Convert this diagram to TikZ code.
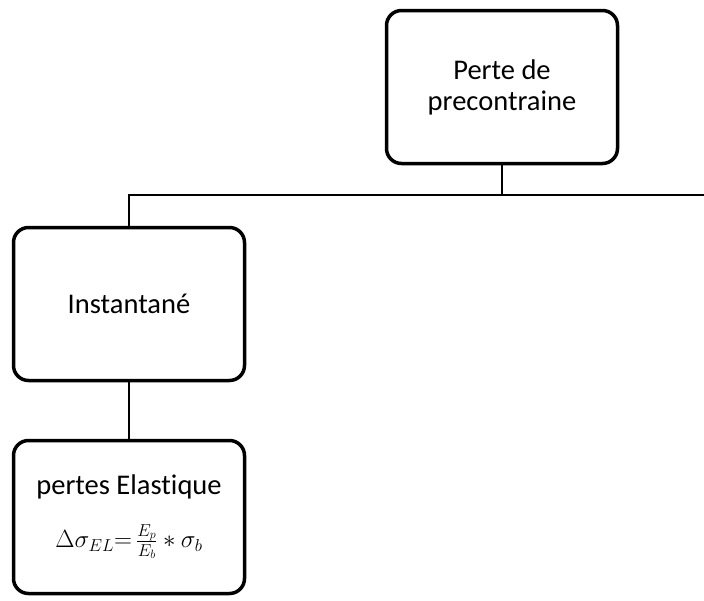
\documentclass[tikz,border=0pt]{standalone}
\usepackage{fontspec}
\setmainfont[Ligatures=NoCommon]{Carlito}
\begin{document}
\begin{tikzpicture}[x=1pt,y=-1pt,
  box/.style={draw, line width=3.5pt, rounded corners=15pt, minimum width=231pt,
    minimum height=153pt, align=center, inner sep=0pt,
    font=\fontsize{28.5}{31}\selectfont},
  link/.style={line width=2pt}]
\useasboundingbox (0,0) rectangle (704,600);
\node[box] (top) at (502,87) {Perte de\\precontraine};
\node[box] (inst) at (129,304) {Instantané};
\node[box] (elas) at (129,517) {pertes Elastique\\[22pt]
  {\fontsize{25}{27}\selectfont$\Delta\sigma_{EL}{=}\,\frac{E_p}{E_b}*\sigma_b$}};
\coordinate (bus) at (502,195);
\coordinate (busend) at (704,195);
\draw[link] (top.south) -- (bus);
\draw[link] (inst.north) |- (busend);
\draw[link] (inst.south) -- (elas.north);
\end{tikzpicture}
\end{document}
